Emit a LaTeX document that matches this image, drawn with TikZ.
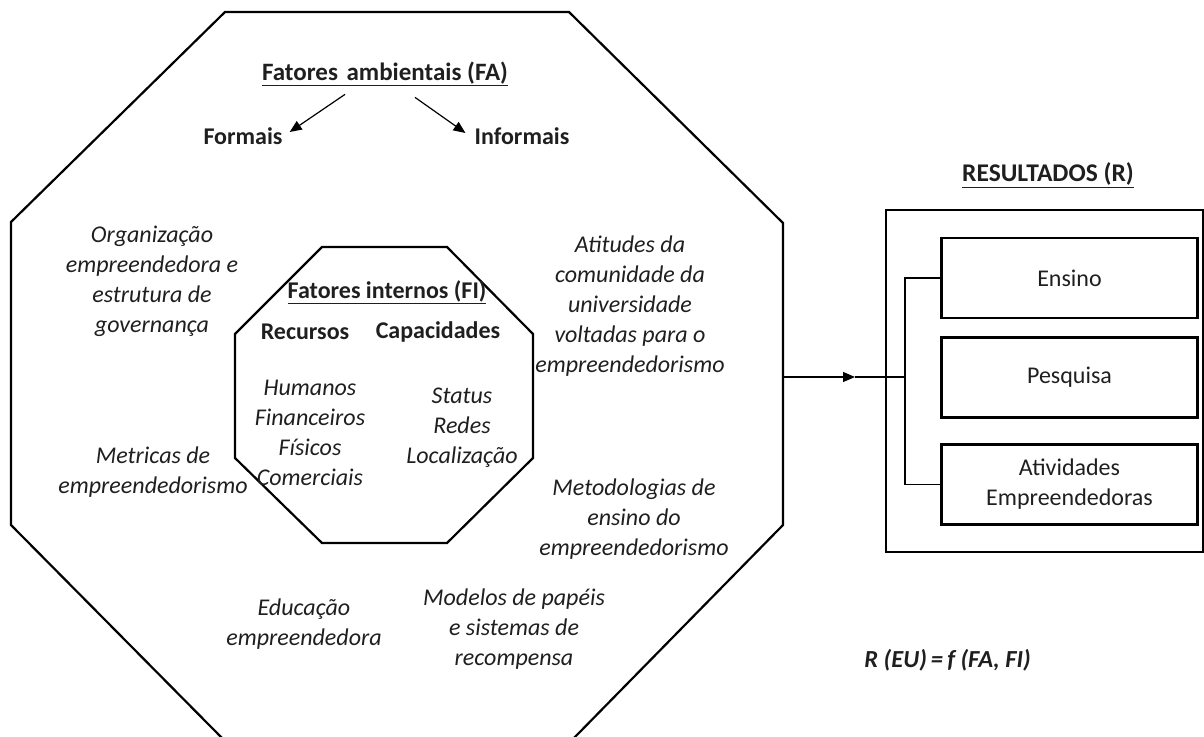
\documentclass[tikz,border=0pt]{standalone}
\usepackage{fontspec}
\setmainfont{Carlito}
\usetikzlibrary{arrows.meta}
\begin{document}
\begin{tikzpicture}[x=1pt,y=-1pt,
  txt/.style={font=\fontsize{24}{30}\selectfont, align=center, inner sep=0pt, text=black!88},
  itx/.style={txt, font=\fontsize{24}{30}\selectfont\itshape},
  bfx/.style={txt, font=\fontsize{24}{30}\selectfont\bfseries},
  edge/.style={line width=2.2pt, line join=miter},
  conn/.style={line width=1.2pt},
  tip/.style={-{Triangle[length=12pt,width=10pt]}},
  resbox/.style={txt, draw, line width=2.2pt, minimum width=256pt, minimum height=80pt}
]
\useasboundingbox (0,0) rectangle (1204,736);

% outer octagon
\coordinate (o1) at (225,12);
\coordinate (o2) at (569,12);
\coordinate (o3) at (783,223);
\coordinate (o4) at (783,525);
\coordinate (o5) at (572,740);
\coordinate (o6) at (224,740);
\coordinate (o7) at (11,525);
\coordinate (o8) at (11,222);
\coordinate (oright) at (783,377);
\draw[edge] (o1) -- (o2) -- (o3) -- (o4) -- (o5) -- (o6) -- (o7) -- (o8) -- cycle;

% inner octagon
\coordinate (i1) at (322,247);
\coordinate (i2) at (447,247);
\coordinate (i3) at (533,334);
\coordinate (i4) at (533,458);
\coordinate (i5) at (447,543);
\coordinate (i6) at (322,543);
\coordinate (i7) at (235,458);
\coordinate (i8) at (235,334);
\draw[edge] (i1) -- (i2) -- (i3) -- (i4) -- (i5) -- (i6) -- (i7) -- (i8) -- cycle;

% environmental factors
\node[bfx, font=\fontsize{25}{30}\selectfont\bfseries] (fa) at (385,74) {\underline{Fatores\hspace{0.12em} ambientais (FA)}};
\node[bfx] (formais) at (243,136) {Formais};
\node[bfx] (informais) at (522,136) {Informais};
\draw[conn,tip] ([shift={(-40,8)}]fa.south) -- ([shift={(7,-4)}]formais.east);
\draw[conn,tip] ([shift={(30,11)}]fa.south) -- ([shift={(-9,-3)}]informais.west);

\node[itx] (org) at (152,281) {Organização\\empreendedora e\\estrutura de\\governança};
\node[itx] (atit) at (630,306) {Atitudes da\\comunidade da\\universidade\\voltadas para o\\empreendedorismo};
\node[itx] (metr) at (153,472) {Metricas de\\empreendedorismo};
\node[itx] (metod) at (634,519) {Metodologias de\\ensino do\\empreendedorismo};
\node[itx] (educ) at (304,624) {Educação\\empreendedora};
\node[itx] (model) at (514,629) {Modelos de papéis\\e sistemas de\\recompensa};

% internal factors
\node[bfx] (fi) at (387,292) {\underline{Fatores internos (FI)}};
\node[bfx] (rec) at (305,332) {Recursos};
\node[bfx] (cap) at (438,332) {Capacidades};
\node[itx] (recl) at (310,433) {Humanos\\Financeiros\\Físicos\\Comerciais};
\node[itx] (capl) at (462,428) {Status\\Redes\\Localização};

% results
\node[bfx, font=\fontsize{25.5}{30}\selectfont\bfseries] (res) at (1048,175) {\underline{RESULTADOS (R)}};
\node[draw, line width=2.2pt, minimum width=317pt, minimum height=342pt, inner sep=0pt] (rbox) at (1044.5,381) {};
\node[resbox] (ens) at (1069.5,278) {Ensino};
\node[resbox] (pesq) at (1069.5,377.5) {Pesquisa};
\node[resbox] (ativ) at (1069.5,484.5) {Atividades\\Empreendedoras};

\coordinate (ain) at (855,377);
\coordinate (br) at (905,377);
\draw[conn,tip] (oright) -- (ain);
\draw[conn] (ain) -- (br);
\draw[conn] (ens.west) -| (br) |- (ativ.west);

\node[txt, font=\fontsize{24.5}{30}\selectfont\bfseries\itshape] (form) at (947.5,660) {R (EU)\,=\,f (FA, FI)};
\end{tikzpicture}
\end{document}
